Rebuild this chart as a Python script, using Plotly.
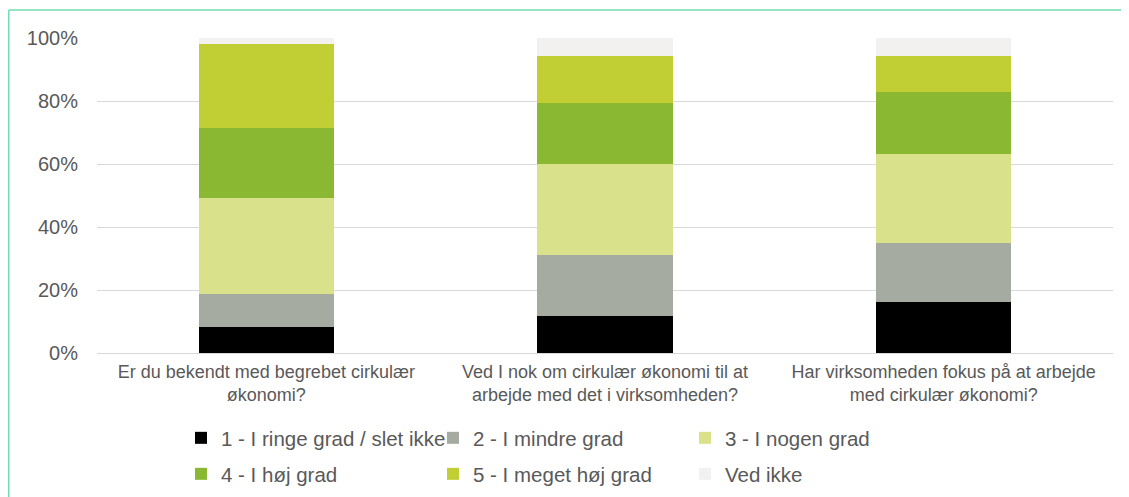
"""Stacked 100% bar chart: kendskab til cirkulær økonomi."""

import plotly.graph_objects as go

QUESTIONS = [
    "Er du bekendt med begrebet cirkulær<br>økonomi?",
    "Ved I nok om cirkulær økonomi til at<br>arbejde med det i virksomheden?",
    "Har virksomheden fokus på at arbejde<br>med cirkulær økonomi?",
]

SERIES_NAMES = [
    "1 - I ringe grad / slet ikke",
    "2 - I mindre grad",
    "3 - I nogen grad",
    "4 - I høj grad",
    "5 - I meget høj grad",
    "Ved ikke",
]

# share of answers per question, in percent
VAL_1 = [8.1, 11.6, 16.2]
VAL_2 = [10.5, 19.6, 18.6]
VAL_3 = [30.7, 28.7, 28.5]
VAL_4 = [22.2, 19.4, 19.5]
VAL_5 = [26.5, 15.1, 11.6]
VAL_VED_IKKE = [2.0, 5.6, 5.6]

Y_TICKS = [0, 20, 40, 60, 80, 100]
Y_TICK_LABELS = ["0%", "20%", "40%", "60%", "80%", "100%"]

COLORS = ["#000000", "#A5ABA0", "#D9E28A", "#8AB833", "#C1CF34", "#F2F1EF"]
TEXT_COLOR = "#595959"
FONT = "Liberation Sans, Arial, sans-serif"

# the page body has an 8px margin, so the figure is drawn that much smaller
PAGE_OFFSET = 8
W, H = 1129 - PAGE_OFFSET, 497 - PAGE_OFFSET
M_L, M_R, M_T, M_B = 89, 16, 30, 144
PLOT_W = W - M_L - M_R
PLOT_H = H - M_T - M_B


def px_x(px):
    """Screen pixel (window coords) -> paper x."""
    return (px - PAGE_OFFSET - M_L) / PLOT_W


def px_y(py):
    """Screen pixel (window coords) -> paper y."""
    return (H - M_B - (py - PAGE_OFFSET)) / PLOT_H


values = [VAL_1, VAL_2, VAL_3, VAL_4, VAL_5, VAL_VED_IKKE]

fig = go.Figure()
for i, (name, vals, color) in enumerate(zip(SERIES_NAMES, values, COLORS)):
    fig.add_trace(go.Bar(
        x=QUESTIONS, y=vals, name=name,
        marker=dict(color=color, line=dict(width=0)),
        legend="legend" if i < 3 else "legend2",
        hovertemplate="%{y:.1f}%<extra>" + name + "</extra>",
    ))

legend_common = dict(
    orientation="h",
    xanchor="left", yanchor="middle",
    x=px_x(181),
    font=dict(family=FONT, size=20.5, color=TEXT_COLOR),
    entrywidth=207, entrywidthmode="pixels",
    bgcolor="rgba(0,0,0,0)",
    traceorder="normal",
)

fig.update_layout(
    barmode="stack",
    bargap=0.6,
    width=W, height=H,
    margin=dict(l=M_L, r=M_R, t=M_T, b=M_B, autoexpand=False),
    plot_bgcolor="white",
    paper_bgcolor="white",
    font=dict(family=FONT, color=TEXT_COLOR),
    legend=dict(y=px_y(438), **legend_common),
    legend2=dict(y=px_y(474), **legend_common),
    xaxis=dict(
        tickfont=dict(size=18, color=TEXT_COLOR),
        showline=False, showgrid=False,
        ticklabelstandoff=6,
        automargin=False,
    ),
    yaxis=dict(
        range=[0, 100],
        tickvals=Y_TICKS, ticktext=Y_TICK_LABELS,
        tickfont=dict(size=20, color=TEXT_COLOR),
        gridcolor="#D9D9D9", gridwidth=1,
        zeroline=True, zerolinecolor="#D9D9D9", zerolinewidth=1,
        ticklabelstandoff=18,
        automargin=False,
    ),
    shapes=[
        dict(type="line", xref="paper", yref="paper",
             x0=px_x(PAGE_OFFSET + 0.75), x1=px_x(1140), y0=px_y(10), y1=px_y(10),
             line=dict(color="#72DDB2", width=1.5)),
        dict(type="line", xref="paper", yref="paper",
             x0=px_x(PAGE_OFFSET + 0.75), x1=px_x(PAGE_OFFSET + 0.75),
             y0=px_y(10), y1=px_y(510),
             line=dict(color="#72DDB2", width=1.5)),
    ],
)

fig.write_html("out.html")
